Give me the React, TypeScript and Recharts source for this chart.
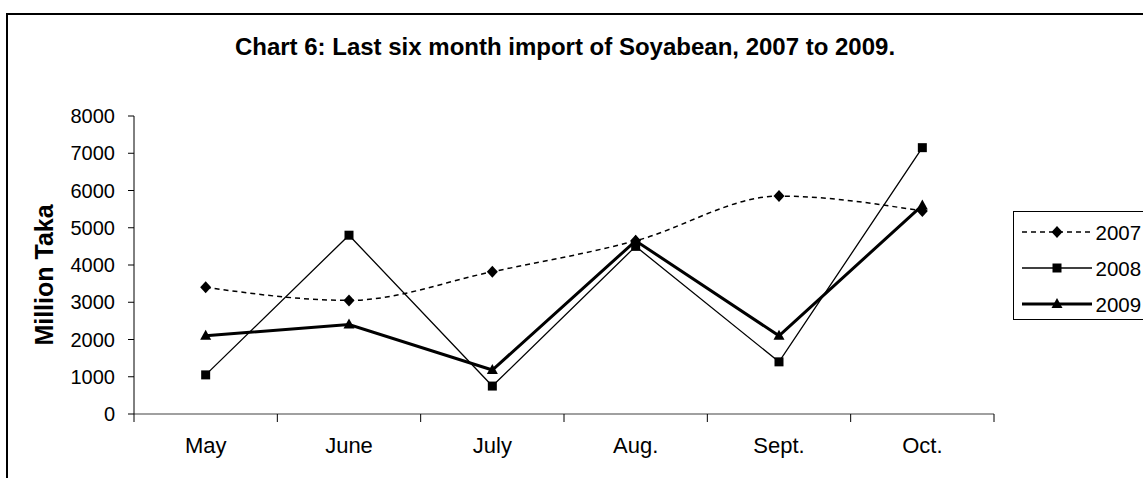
import React from 'react'
import { LineChart, Line, XAxis, YAxis } from 'recharts'

// ─── Data ────────────────────────────────────────────────────────────

const months = ['May', 'June', 'July', 'Aug.', 'Sept.', 'Oct.']
const import2007 = [3400, 3050, 3820, 4650, 5850, 5450]
const import2008 = [1050, 4800, 750, 4500, 1400, 7150]
const import2009 = [2100, 2400, 1180, 4650, 2100, 5600]
const yTicks = [0, 1000, 2000, 3000, 4000, 5000, 6000, 7000, 8000]
const boundaryTicks = [0, 1, 2, 3, 4, 5, 6]

const chartData = months.map((month, i) => ({
    pos: i + 0.5,
    month,
    y2007: import2007[i],
    y2008: import2008[i],
    y2009: import2009[i],
}))

const FONT = 'Arial, "Liberation Sans", sans-serif'

// ─── Markers ─────────────────────────────────────────────────────────

const diamondPath = (x: number, y: number) => `M${x},${y - 6}L${x + 5.5},${y}L${x},${y + 6}L${x - 5.5},${y}Z`
const squarePath = (x: number, y: number) => `M${x - 4.5},${y - 4.5}h9v9h-9Z`
const trianglePath = (x: number, y: number) => `M${x},${y - 6}L${x + 5.5},${y + 4}L${x - 5.5},${y + 4}Z`

const makeDot = (shape: (x: number, y: number) => string, name: string) => (p: any) => (
    <path key={`${name}-${p.index}`} d={shape(p.cx, p.cy)} fill="#000" stroke="none" />
)

const series = [
    { key: 'y2007', label: '2007', width: 1.5, dash: '5 4', type: 'monotone', shape: diamondPath },
    { key: 'y2008', label: '2008', width: 1.3, dash: undefined, type: 'linear', shape: squarePath },
    { key: 'y2009', label: '2009', width: 3, dash: undefined, type: 'linear', shape: trianglePath },
]

// ─── Axis tick ───────────────────────────────────────────────────────

function MonthTick(props: any) {
    const { x, y, payload, width } = props
    const cell = (typeof width === 'number' && width > 0 ? width : 860) / months.length
    const label = months[payload.value]
    if (!label) return <g />
    return (
        <text x={x + cell / 2} y={y} dy="0.71em" textAnchor="middle" fontSize={22} fill="#000" fontFamily={FONT}>
            {label}
        </text>
    )
}

// ─── Component ───────────────────────────────────────────────────────

export default function App() {
    return (
        <div style={{ position: 'fixed', left: 0, top: 0, width: 1143, height: 478, overflow: 'hidden', background: '#fff', fontFamily: FONT }}>
            <div style={{ position: 'absolute', left: 6, top: 13, width: 1300, height: 700, border: '2px solid #000' }} />
            <div style={{ position: 'absolute', left: 0, top: 35, width: 1130, textAlign: 'center', fontSize: 24, lineHeight: '24px', fontWeight: 'bold', color: '#000' }}>
                Chart 6: Last six month import of Soyabean, 2007 to 2009.
            </div>
            <div style={{ position: 'absolute', left: 0, top: 0 }}>
                <LineChart width={1143} height={478} data={chartData} margin={{ top: 116, right: 149, bottom: 24, left: 74 }} style={{ fontFamily: FONT }}>
                    <XAxis
                        type="number"
                        dataKey="pos"
                        domain={[0, 6]}
                        ticks={boundaryTicks}
                        interval={0}
                        height={40}
                        tickSize={8}
                        tickMargin={15}
                        tick={<MonthTick />}
                        axisLine={{ stroke: '#808080', strokeWidth: 1.5 }}
                        tickLine={{ stroke: '#000' }}
                    />
                    <YAxis
                        type="number"
                        domain={[0, 8000]}
                        ticks={yTicks}
                        interval={0}
                        width={60}
                        tickSize={6}
                        tickMargin={13}
                        tick={{ fill: '#000', fontSize: 20 }}
                        axisLine={{ stroke: '#000' }}
                        tickLine={{ stroke: '#000' }}
                    />
                    {series.map(s => (
                        <Line
                            key={s.key}
                            dataKey={s.key}
                            type={s.type as any}
                            stroke="#000"
                            strokeWidth={s.width}
                            strokeDasharray={s.dash}
                            dot={makeDot(s.shape, s.key)}
                            activeDot={false}
                            isAnimationActive={false}
                        />
                    ))}
                </LineChart>
            </div>
            <svg style={{ position: 'absolute', left: 0, top: 0 }} width={1143} height={478}>
                <text x={44} y={275} transform="rotate(-90 44 275)" textAnchor="middle" dominantBaseline="central" fontSize={25} fontWeight="bold" fill="#000" fontFamily={FONT}>
                    Million Taka
                </text>
                <rect x={1013.5} y={211.5} width={200} height={108} fill="#fff" stroke="#000" strokeWidth={1} />
                {series.map((s, i) => {
                    const y = 232 + i * 36
                    return (
                        <g key={s.key}>
                            <line x1={1022} x2={1092} y1={y} y2={y} stroke="#000" strokeWidth={s.width} strokeDasharray={s.dash} />
                            <path d={s.shape(1057, y)} fill="#000" />
                            <text x={1095.5} y={y} dominantBaseline="central" fontSize={20.5} fill="#000" fontFamily={FONT}>{s.label}</text>
                        </g>
                    )
                })}
            </svg>
        </div>
    )
}
